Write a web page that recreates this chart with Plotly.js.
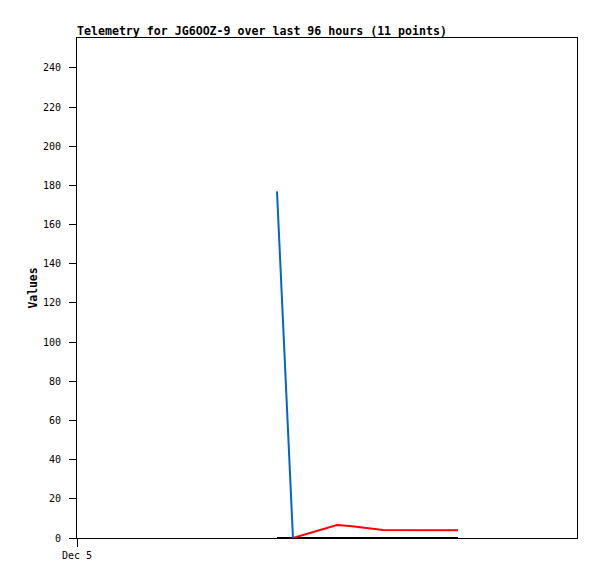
<!DOCTYPE html>
<html>
<head>
<meta charset="utf-8">
<script src="https://cdn.plot.ly/plotly-3.0.1.min.js"></script>
<style>html,body{margin:0;padding:0;background:#fff;}#chart{width:597px;height:579px;}</style>
</head>
<body>
<div id="chart"></div>
<script>
// Sample times (x axis)
var times = [
  '2024-12-06 14:24', '2024-12-06 17:28', '2024-12-07 01:55', '2024-12-07 04:25',
  '2024-12-07 06:55', '2024-12-07 08:16', '2024-12-07 10:45', '2024-12-08 01:09'
];
// Series values (null = no sample)
var blueValues  = [177, 0, null, null, null, null, null, null];
var redValues   = [null, 0, 6.6, 6.1, 5.3, 4.6, 4.1, 4.0];
var blackValues = [0, 0, 0, 0, 0, 0, 0, 0];
// Axis labels
var xTickVals = ['2024-12-05 00:00'];
var xTickText = ['Dec 5'];
var xRange = ['2024-12-05 00:00', '2024-12-09 00:00'];
var yRange = [0, 255.3];

var mono = '"DejaVu Sans Mono", monospace';

var traces = [
  {x: times, y: blackValues, type: 'scatter', mode: 'lines', line: {color: '#000000', width: 2}, connectgaps: true},
  {x: times, y: redValues, type: 'scatter', mode: 'lines', line: {color: '#ff0000', width: 2}, connectgaps: true},
  {x: times, y: blueValues, type: 'scatter', mode: 'lines', line: {color: '#0066cc', width: 2}, connectgaps: false}
];

var layout = {
  width: 597, height: 579,
  margin: {l: 77, r: 20, t: 38, b: 41, pad: 0},
  paper_bgcolor: '#ffffff', plot_bgcolor: '#ffffff',
  showlegend: false,
  title: {
    text: '<b>Telemetry for JG6OOZ-9 over last 96 hours (11 points)</b>',
    font: {family: mono, size: 11.6, color: '#000'},
    x: 0, xref: 'paper', xanchor: 'left',
    y: 1 - 31/579, yref: 'container', yanchor: 'middle'
  },
  xaxis: {
    type: 'date', range: xRange,
    tickmode: 'array', tickvals: xTickVals, ticktext: xTickText,
    ticks: 'outside', ticklen: 8, tickwidth: 1, tickcolor: '#000',
    tickfont: {family: mono, size: 10, color: '#000'},
    showgrid: false, zeroline: false,
    showline: true, linecolor: '#000', linewidth: 1, mirror: true
  },
  yaxis: {
    range: yRange, tickmode: 'linear', tick0: 0, dtick: 20,
    ticks: 'outside', ticklen: 7, tickwidth: 1, tickcolor: '#000',
    tickfont: {family: mono, size: 10, color: '#000'},
    ticklabelstandoff: 6,
    showgrid: false, zeroline: false,
    showline: true, linecolor: '#000', linewidth: 1, mirror: true,
    title: {text: '<b>Values</b>', font: {family: mono, size: 11.4, color: '#000'}, standoff: 2}
  }
};

Plotly.newPlot('chart', traces, layout, {staticPlot: true, displayModeBar: false});
</script>
</body>
</html>
